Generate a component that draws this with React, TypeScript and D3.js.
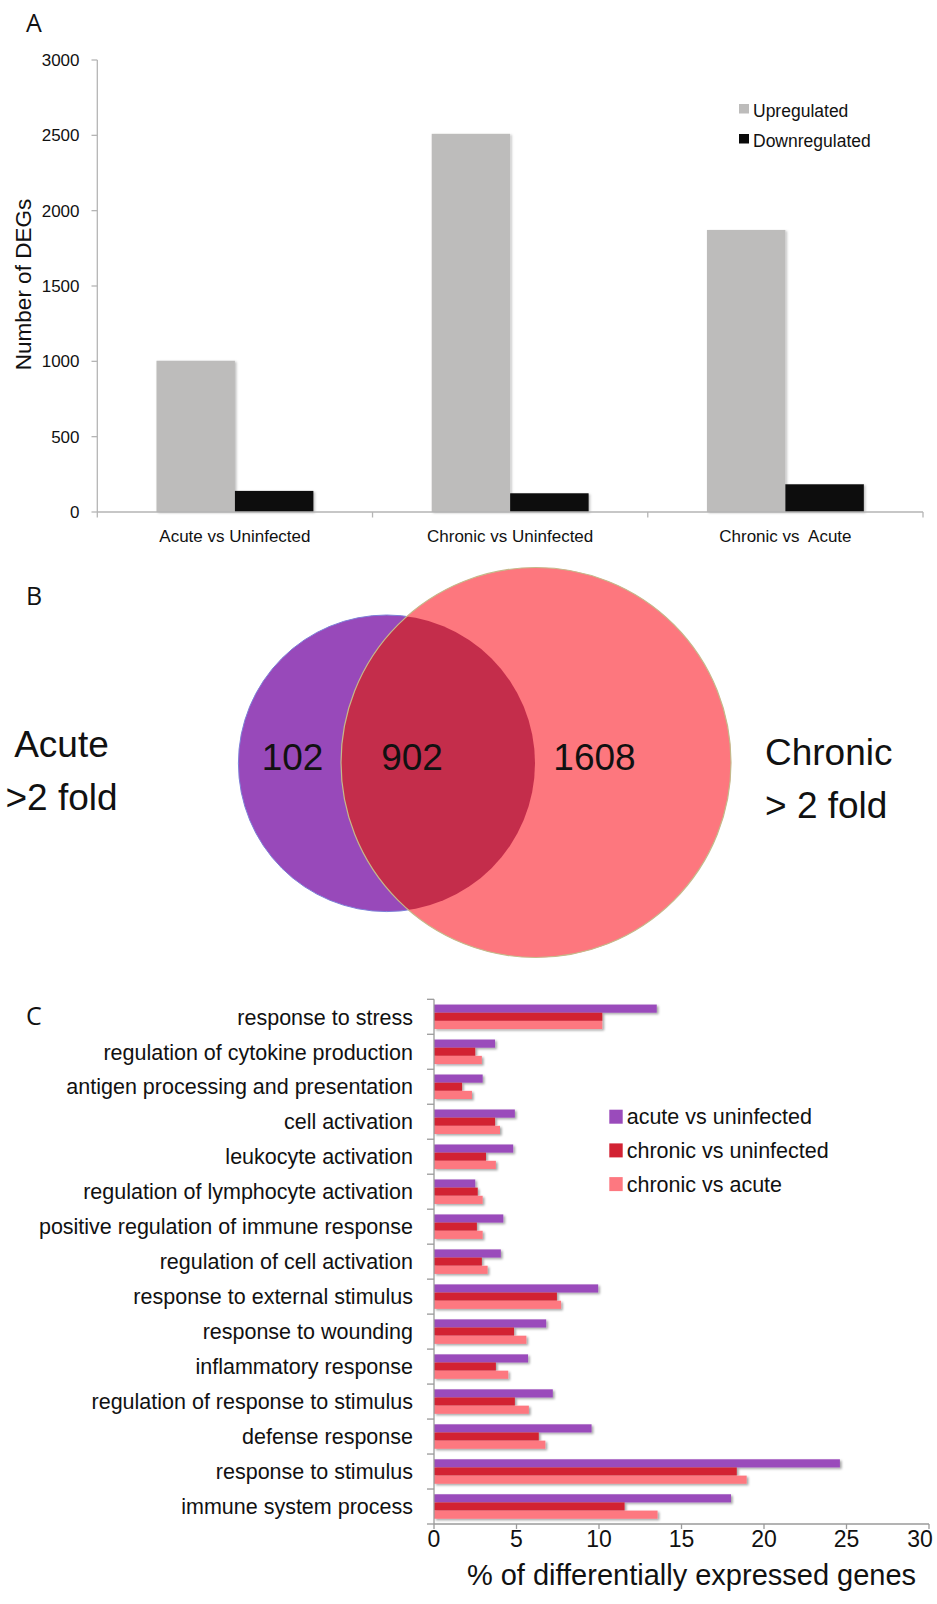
import React from 'react';
import * as d3 from 'd3';

// ---------- Panel A data ----------
const comparisons = ['Acute vs Uninfected', 'Chronic vs Uninfected', 'Chronic vs  Acute'];
const regulationSeries = ['Upregulated', 'Downregulated'];
const upregulated = [1004, 2510, 1872];
const downregulated = [140, 124, 184];
const degTicks = [0, 500, 1000, 1500, 2000, 2500, 3000];

// ---------- Panel B data ----------
const acuteLabel = ['Acute', '>2 fold'];
const chronicLabel = ['Chronic', '> 2 fold'];
const vennCounts = [102, 902, 1608]; // acute only, shared, chronic only

// ---------- Panel C data ----------
const goTerms = [
  'response to stress',
  'regulation of cytokine production',
  'antigen processing and presentation',
  'cell activation',
  'leukocyte activation',
  'regulation of lymphocyte activation',
  'positive regulation of immune response',
  'regulation of cell activation',
  'response to external stimulus',
  'response to wounding',
  'inflammatory response',
  'regulation of response to stimulus',
  'defense response',
  'response to stimulus',
  'immune system process',
];
const goSeries = ['acute vs uninfected', 'chronic vs uninfected', 'chronic vs acute'];
const acuteVsUninfected = [13.5, 3.7, 2.95, 4.9, 4.8, 2.5, 4.2, 4.05, 9.95, 6.8, 5.7, 7.2, 9.55, 24.6, 18.0];
const chronicVsUninfected = [10.2, 2.5, 1.7, 3.7, 3.15, 2.65, 2.6, 2.9, 7.45, 4.85, 3.75, 4.9, 6.35, 18.35, 11.55];
const chronicVsAcute = [10.2, 2.9, 2.3, 4.0, 3.75, 2.95, 2.95, 3.25, 7.7, 5.6, 4.5, 5.75, 6.75, 18.95, 13.55];
const pctTicks = [0, 5, 10, 15, 20, 25, 30];

const FONT = '"Liberation Sans", Arial, Helvetica, sans-serif';
const PANEL_FONT = '"Open Sans", "DejaVu Sans", sans-serif';

export default function App() {
  // ---- Panel A scales ----
  const yA = d3.scaleLinear().domain([0, 3000]).range([512, 60]);
  const x0A = d3.scaleBand<string>().domain(comparisons).range([97.3, 923]).paddingInner(0.43).paddingOuter(0.215);
  const x1A = d3.scaleBand<string>().domain(regulationSeries).range([0, x0A.bandwidth()]);
  const aColors = ['#bdbcbb', '#0a0a0a'];
  const aValues = [upregulated, downregulated];
  const stepA = x0A.step();
  const startA = 97.3;

  // ---- Panel C scales ----
  const xC = d3.scaleLinear().domain([0, 30]).range([434, 929]);
  const yC = d3.scaleBand<string>().domain(goTerms).range([999.3, 1524]).paddingInner(0.3).paddingOuter(0.15);
  const y1C = d3.scaleBand<string>().domain(goSeries).range([0, yC.bandwidth()]);
  const cColors = ['#9a4bbb', '#d22233', '#fd7880'];
  const cValues = [acuteVsUninfected, chronicVsUninfected, chronicVsAcute];
  const cTop = yC.range()[0];
  const stepC = (1524 - 999.3) / goTerms.length;

  // ---- Panel B geometry ----
  const purple = { cx: 386.7, cy: 763.3, r: 148.3 };
  const red = { cx: 536, cy: 762.5, r: 195 };

  return (
    <svg width={937} height={1604} style={{ position: 'absolute', left: 0, top: 0, background: '#fff' }} fontFamily={FONT}>
      <defs>
        <filter id="shA" x="-10%" y="-10%" width="120%" height="120%">
          <feDropShadow dx="1.5" dy="1" stdDeviation="1" floodColor="#000" floodOpacity="0.25" />
        </filter>
        <filter id="shC" x="-5%" y="-30%" width="115%" height="180%">
          <feDropShadow dx="1.8" dy="1.5" stdDeviation="1" floodColor="#000" floodOpacity="0.35" />
        </filter>
        <clipPath id="purpleClip">
          <circle cx={purple.cx} cy={purple.cy} r={purple.r} />
        </clipPath>
      </defs>

      {/* ================= Panel A ================= */}
      <text x={26} y={31.7} fontSize={25} fontFamily={PANEL_FONT} fill="#111">A</text>
      {/* y axis */}
      <line x1={97.3} x2={97.3} y1={yA(3000)} y2={yA(0)} stroke="#b5b5b5" strokeWidth={1.3} />
      {degTicks.map((t) => (
        <g key={t}>
          <line x1={91.5} x2={97.3} y1={yA(t)} y2={yA(t)} stroke="#b5b5b5" strokeWidth={1.3} />
          <text x={79.5} y={yA(t)} dy="0.36em" textAnchor="end" fontSize={17} fill="#111">{t}</text>
        </g>
      ))}
      <text transform={`translate(30.5,284.5) rotate(-90)`} textAnchor="middle" fontSize={22.5} fill="#111">Number of DEGs</text>
      {/* bars */}
      {comparisons.map((c, i) => (
        <g key={c} filter="url(#shA)">
          {regulationSeries.map((s, j) => (
            <rect
              key={s}
              x={(x0A(c) ?? 0) + (x1A(s) ?? 0)}
              y={yA(aValues[j][i])}
              width={x1A.bandwidth()}
              height={yA(0) - yA(aValues[j][i])}
              fill={aColors[j]}
            />
          ))}
        </g>
      ))}
      {/* x axis */}
      <line x1={startA} x2={startA + stepA * comparisons.length} y1={yA(0)} y2={yA(0)} stroke="#b5b5b5" strokeWidth={1.3} />
      {d3.range(comparisons.length + 1).map((i) => (
        <line key={i} x1={startA + i * stepA} x2={startA + i * stepA} y1={yA(0)} y2={yA(0) + 5.5} stroke="#b5b5b5" strokeWidth={1.3} />
      ))}
      {comparisons.map((c) => (
        <text key={c} x={(x0A(c) ?? 0) + x0A.bandwidth() / 2} y={541.7} textAnchor="middle" fontSize={17} fill="#111" style={{ whiteSpace: 'pre' }}>
          {c}
        </text>
      ))}
      {/* legend */}
      {regulationSeries.map((s, j) => (
        <g key={s}>
          <rect x={739} y={104 + j * 30} width={10} height={9.5} fill={aColors[j]} />
          <text x={753} y={116.7 + j * 30} fontSize={17.5} fill="#111">{s}</text>
        </g>
      ))}

      {/* ================= Panel B ================= */}
      <text x={26} y={605} fontSize={25} fontFamily={PANEL_FONT} fill="#111">B</text>
      <circle cx={purple.cx} cy={purple.cy} r={purple.r} fill="#9849ba" stroke="#7d7fd8" strokeWidth={1} />
      <circle cx={red.cx} cy={red.cy} r={red.r} fill="#fd777e" />
      <circle cx={red.cx} cy={red.cy} r={red.r} fill="#c42d4b" clipPath="url(#purpleClip)" />
      <circle cx={red.cx} cy={red.cy} r={red.r} fill="none" stroke="#c4b98a" strokeWidth={1.2} />
      <text x={292.5} y={769.5} textAnchor="middle" fontSize={37} fill="#111">{vennCounts[0]}</text>
      <text x={412} y={769.5} textAnchor="middle" fontSize={37} fill="#111">{vennCounts[1]}</text>
      <text x={594.5} y={769.5} textAnchor="middle" fontSize={37} fill="#111">{vennCounts[2]}</text>
      {acuteLabel.map((l, i) => (
        <text key={l} x={61.5} y={756.7 + i * 53.3} textAnchor="middle" fontSize={37} fill="#111">{l}</text>
      ))}
      {chronicLabel.map((l, i) => (
        <text key={l} x={765} y={765 + i * 53.3} fontSize={37} fill="#111">{l}</text>
      ))}

      {/* ================= Panel C ================= */}
      <text x={26} y={1025} fontSize={25} fontFamily={PANEL_FONT} fill="#111">C</text>
      {goTerms.map((g, i) => (
        <g key={g} filter="url(#shC)">
          {goSeries.map((s, j) => (
            <rect
              key={s}
              x={xC(0)}
              y={(yC(g) ?? 0) + (y1C(s) ?? 0)}
              width={xC(cValues[j][i]) - xC(0)}
              height={y1C.bandwidth()}
              fill={cColors[j]}
            />
          ))}
        </g>
      ))}
      {goTerms.map((g) => (
        <text key={g} x={413} y={(yC(g) ?? 0) + yC.bandwidth() / 2} dy="0.36em" textAnchor="end" fontSize={21.5} fill="#111">
          {g}
        </text>
      ))}
      {/* axes */}
      <line x1={xC(0)} x2={xC(0)} y1={cTop} y2={1524} stroke="#9a9a9a" strokeWidth={1.3} />
      {d3.range(goTerms.length + 1).map((i) => (
        <line key={i} x1={427} x2={xC(0)} y1={cTop + i * stepC} y2={cTop + i * stepC} stroke="#9a9a9a" strokeWidth={1.3} />
      ))}
      <line x1={xC(0)} x2={xC(30)} y1={1524} y2={1524} stroke="#9a9a9a" strokeWidth={1.3} />
      {pctTicks.map((t) => (
        <g key={t}>
          <line x1={xC(t)} x2={xC(t)} y1={1524} y2={1529} stroke="#9a9a9a" strokeWidth={1.3} />
          <text x={Math.min(xC(t), 920)} y={1547} textAnchor="middle" fontSize={23} fill="#111">{t}</text>
        </g>
      ))}
      <text x={691.5} y={1585} textAnchor="middle" fontSize={29} fill="#111">% of differentially expressed genes</text>
      {/* legend */}
      {goSeries.map((s, j) => (
        <g key={s}>
          <rect x={609.3} y={1109.7 + j * 33.7} width={13.4} height={14} fill={cColors[j]} />
          <text x={626.7} y={1116.7 + j * 33.7} dy="0.36em" fontSize={21.5} fill="#111">{s}</text>
        </g>
      ))}
    </svg>
  );
}
